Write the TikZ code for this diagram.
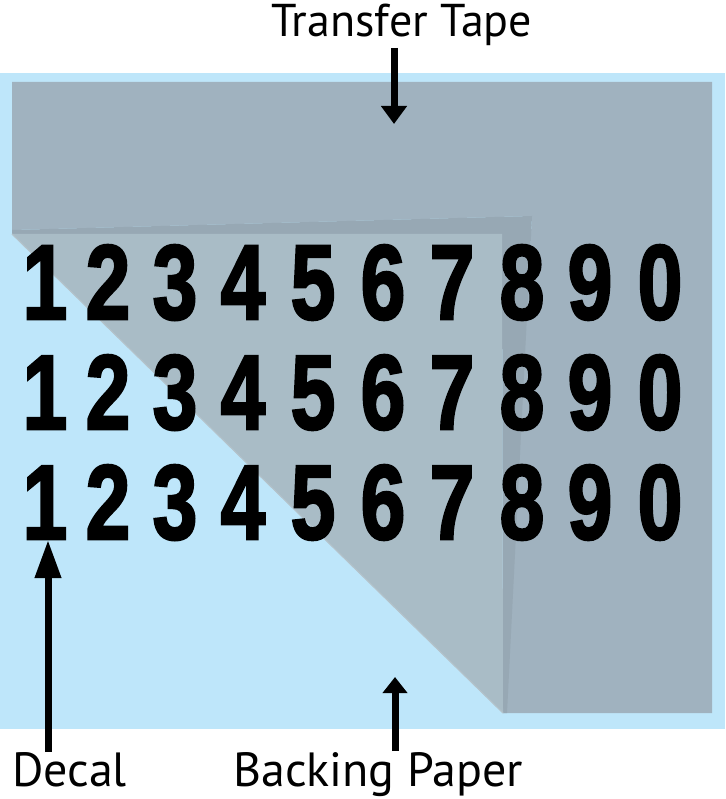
\documentclass[tikz,border=0pt]{standalone}
\usepackage{fontspec}
\setmainfont{PT Sans}
\newfontfamily\digitfont[FakeBold=2.5]{Liberation Sans Bold}
\usetikzlibrary{arrows.meta}
\definecolor{paper}{HTML}{BEE6FA}
\definecolor{tape}{HTML}{A0B2BF}
\definecolor{tapeshadow}{HTML}{97A8B4}
\definecolor{fold}{HTML}{A9BCC6}
\definecolor{foldedge}{HTML}{B3C2CA}
\begin{document}
\begin{tikzpicture}[x=1pt,y=-1pt,
  lbl/.style={font=\fontsize{46}{46}\selectfont, inner sep=0pt, anchor=base west},
  lblb/.style={lbl, font=\fontsize{48}{48}\selectfont},
  digit/.style={font=\digitfont\fontsize{106}{106}\selectfont, inner sep=0pt, anchor=base, xscale=0.76},
  pointer/.style={line width=7pt, -{Triangle[width=25pt,length=18pt]}}]
\useasboundingbox (0,0) rectangle (725,799);
% backing paper
\fill[paper] (0,73) rectangle (725,729);
% transfer tape (still on)
\fill[tape] (12,82) -- (712,82) -- (712,713) -- (503,713) -- (532,216) -- (12,230) -- cycle;
% shadow of the fold
\fill[tapeshadow] (12,230) -- (532,216) -- (507,713) -- (503,713) -- (502,234) -- (12,234) -- cycle;
% folded-back part of the tape
\fill[fold] (12,234) -- (502,234) -- (503,713) -- cycle;
\draw[foldedge, line width=1.2pt] (12,234) -- (503,713);
% decal digits
\foreach \r/\y in {1/319, 2/429, 3/539} {
  \foreach \d/\x [count=\i] in {1/45, 2/108, 3/175, 4/243, 5/313, 6/383, 7/452, 8/522, 9/590, 0/660} {
    \node[digit] (d\r-\i) at (\x,\y) {\d};
  }
}
% labels
\node[lbl] (tt) at (271,37) {Transfer Tape};
\node[lblb] (dc) at (12,786) {Decal};
\node[lblb] (bp) at (233,786) {Backing Paper};
% pointers
\coordinate (ttA) at (394,48);
\coordinate (ttB) at (394,124);
\coordinate (dcA) at (48,752);
\coordinate (dcB) at (48,540);
\coordinate (bpA) at (395,751);
\coordinate (bpB) at (395,677);
\draw[pointer] (ttA) -- (ttB);
\draw[pointer, -{Triangle[width=25pt,length=38pt]}] (dcA) -- (dcB);
\draw[pointer, -{Triangle[width=24pt,length=16pt]}] (bpA) -- (bpB);
\end{tikzpicture}
\end{document}
